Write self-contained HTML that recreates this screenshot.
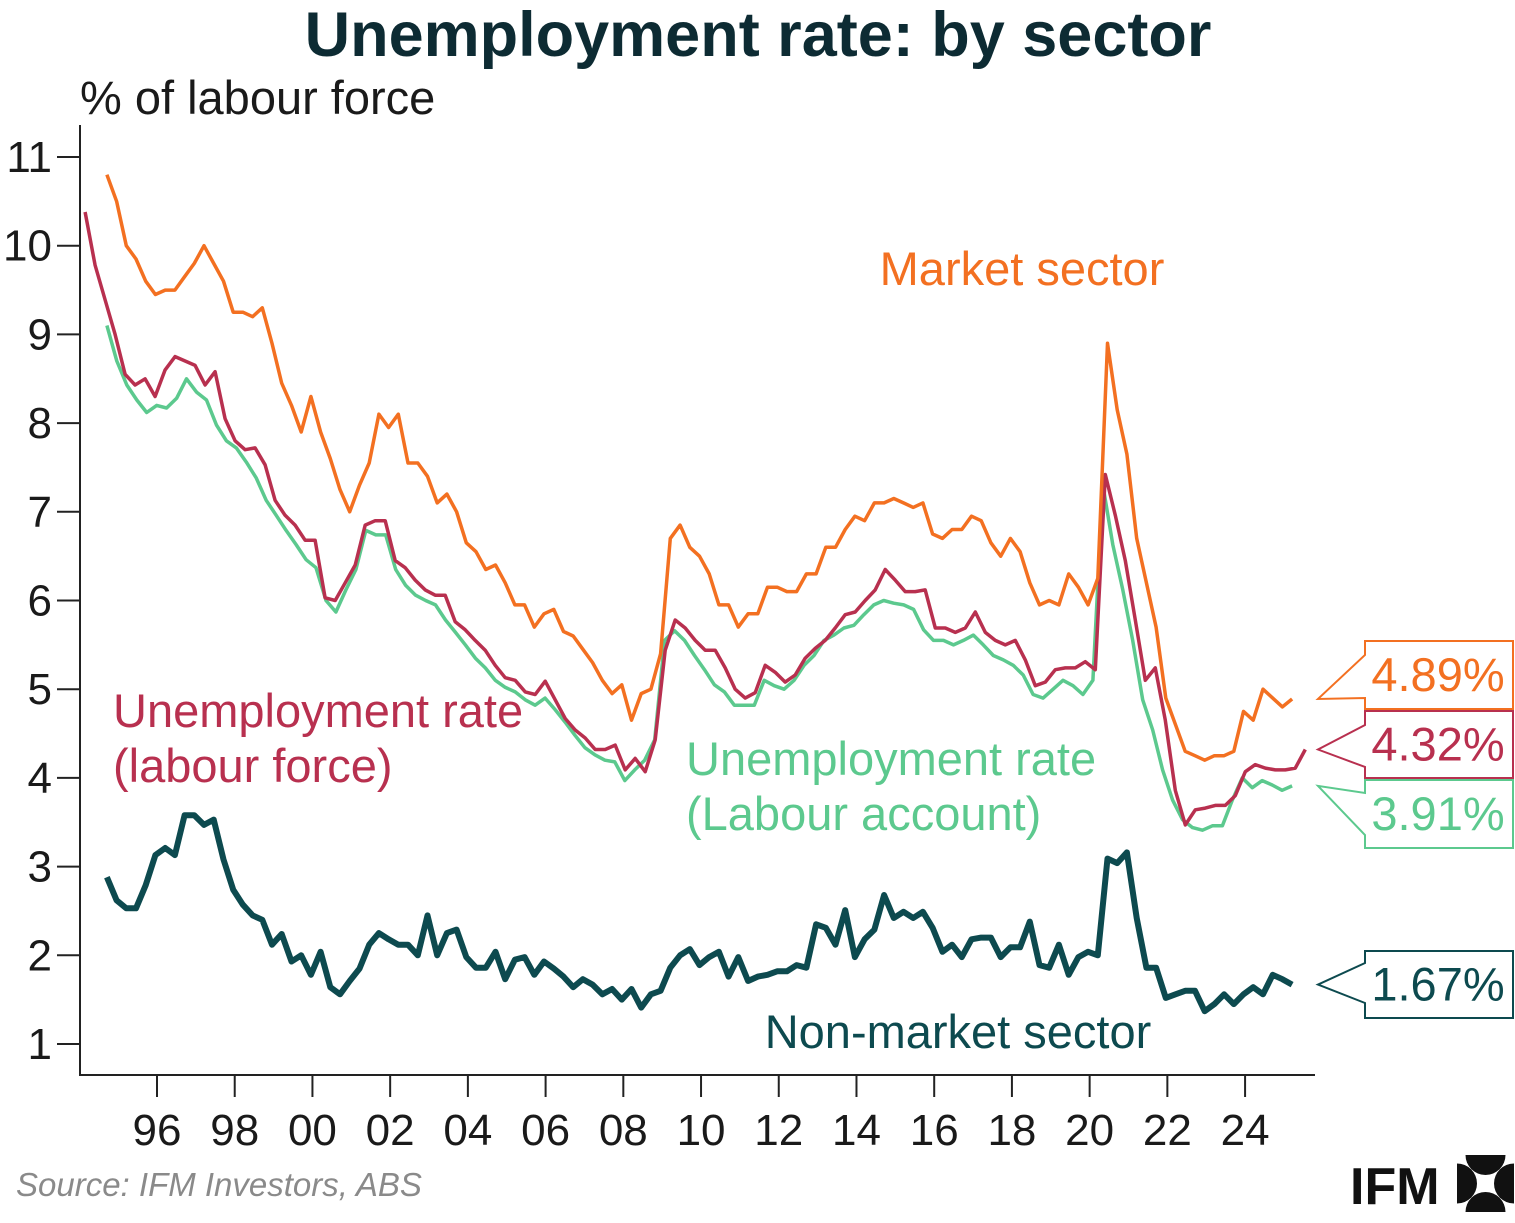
<!DOCTYPE html>
<html><head><meta charset="utf-8"><style>
body{margin:0;background:#fff;width:1515px;height:1218px;overflow:hidden;font-family:"Liberation Sans",sans-serif}
svg text{font-family:"Liberation Sans",sans-serif}
</style></head><body>
<svg id="c" width="1515" height="1218" viewBox="0 0 1515 1218">
<text x="758" y="56" text-anchor="middle" font-size="63" font-weight="bold" fill="#0d2b33">Unemployment rate: by sector</text>
<text x="80" y="114" font-size="47" fill="#1a1a1a">% of labour force</text>
<g id="axes"></g><g id="series"></g>
<text x="1022" y="285" text-anchor="middle" font-size="47" fill="#f37021">Market sector</text>
<text x="113" y="727" font-size="47" fill="#b8304f">Unemployment rate</text>
<text x="113" y="782" font-size="47" fill="#b8304f">(labour force)</text>
<text x="686" y="775" font-size="47" fill="#5cc98e">Unemployment rate</text>
<text x="686" y="830" font-size="47" fill="#5cc98e">(Labour account)</text>
<text x="958" y="1048" text-anchor="middle" font-size="47" fill="#0d4a4f">Non-market sector</text>
<g id="callouts"></g>
<text x="16" y="1196" font-size="33" font-style="italic" fill="#8a8a8a">Source: IFM Investors, ABS</text>
<text x="1350" y="1204" font-size="52" font-weight="bold" fill="#111">IFM</text>
<g transform="translate(1457,1155)">
<clipPath id="lc"><rect width="57" height="57"/></clipPath>
<g clip-path="url(#lc)" fill="#111"><circle cx="28.5" cy="0" r="20"/><circle cx="28.5" cy="57" r="20"/><circle cx="0" cy="28.5" r="20"/><circle cx="57" cy="28.5" r="20"/></g>
</g>
</svg>
<script>
const yTicks=[1,2,3,4,5,6,7,8,9,10,11];
const xTickYears=[1996,1998,2000,2002,2004,2006,2008,2010,2012,2014,2016,2018,2020,2022,2024];
const xTickLabels=["96","98","00","02","04","06","08","10","12","14","16","18","20","22","24"];
const marketRange=[1994.71,2025.21];
const marketVals=[10.8,10.5,10.0,9.85,9.6,9.45,9.5,9.5,9.65,9.8,10.0,9.8,9.6,9.25,9.25,9.2,9.3,8.9,8.45,8.2,7.9,8.3,7.9,7.6,7.25,7.0,7.3,7.55,8.1,7.95,8.1,7.55,7.55,7.4,7.1,7.2,7.0,6.65,6.55,6.35,6.4,6.2,5.95,5.95,5.7,5.85,5.9,5.65,5.6,5.45,5.3,5.1,4.95,5.05,4.65,4.95,5.0,5.4,6.7,6.85,6.6,6.5,6.3,5.95,5.95,5.7,5.85,5.85,6.15,6.15,6.1,6.1,6.3,6.3,6.6,6.6,6.8,6.95,6.9,7.1,7.1,7.15,7.1,7.05,7.1,6.75,6.7,6.8,6.8,6.95,6.9,6.65,6.5,6.7,6.55,6.2,5.95,6.0,5.95,6.3,6.15,5.95,6.25,8.9,8.15,7.65,6.7,6.2,5.7,4.9,4.6,4.3,4.25,4.2,4.25,4.25,4.3,4.75,4.65,5.0,4.9,4.8,4.89];
const lfRange=[1994.15,2025.55];
const lfVals=[10.38,9.78,9.39,9.0,8.55,8.43,8.5,8.3,8.6,8.75,8.7,8.65,8.43,8.58,8.05,7.8,7.7,7.72,7.53,7.13,6.96,6.85,6.68,6.68,6.03,6.0,6.2,6.4,6.85,6.9,6.9,6.45,6.37,6.23,6.12,6.06,6.06,5.76,5.67,5.55,5.44,5.27,5.13,5.1,4.97,4.94,5.09,4.88,4.67,4.54,4.45,4.32,4.32,4.37,4.09,4.22,4.07,4.43,5.44,5.78,5.69,5.55,5.44,5.44,5.24,5.0,4.9,4.96,5.27,5.19,5.08,5.16,5.35,5.46,5.55,5.69,5.84,5.87,6.0,6.12,6.35,6.23,6.1,6.1,6.12,5.69,5.69,5.64,5.69,5.87,5.64,5.55,5.5,5.55,5.33,5.04,5.08,5.22,5.24,5.24,5.31,5.22,7.42,6.96,6.45,5.78,5.1,5.24,4.65,3.86,3.47,3.64,3.66,3.69,3.69,3.8,4.07,4.15,4.11,4.09,4.09,4.11,4.32];
const laRange=[1994.71,2025.21];
const laVals=[9.1,8.7,8.43,8.26,8.12,8.2,8.17,8.28,8.5,8.35,8.26,7.98,7.8,7.72,7.56,7.38,7.13,6.96,6.79,6.63,6.46,6.37,6.0,5.87,6.12,6.35,6.79,6.74,6.74,6.35,6.17,6.06,6.0,5.95,5.78,5.64,5.5,5.35,5.24,5.1,5.02,4.97,4.88,4.82,4.9,4.77,4.63,4.48,4.34,4.26,4.2,4.18,3.97,4.09,4.2,4.43,5.55,5.66,5.55,5.38,5.22,5.05,4.97,4.82,4.82,4.82,5.1,5.04,5.0,5.1,5.27,5.38,5.55,5.61,5.69,5.72,5.84,5.95,6.0,5.97,5.95,5.9,5.67,5.55,5.55,5.5,5.55,5.61,5.5,5.38,5.33,5.27,5.16,4.94,4.9,5.0,5.1,5.04,4.94,5.1,7.3,6.63,6.12,5.55,4.88,4.54,4.09,3.75,3.53,3.44,3.41,3.46,3.46,3.75,4.0,3.89,3.97,3.92,3.86,3.91];
const nmRange=[1994.71,2025.21];
const nmVals=[2.88,2.62,2.53,2.53,2.79,3.13,3.21,3.13,3.58,3.58,3.47,3.53,3.08,2.74,2.57,2.45,2.4,2.12,2.24,1.93,2.0,1.78,2.04,1.64,1.56,1.71,1.85,2.12,2.25,2.18,2.12,2.12,2.0,2.45,2.0,2.25,2.29,1.98,1.86,1.86,2.04,1.73,1.95,1.98,1.78,1.93,1.85,1.76,1.64,1.73,1.67,1.56,1.62,1.5,1.62,1.41,1.56,1.6,1.86,2.0,2.07,1.89,1.98,2.04,1.76,1.98,1.71,1.76,1.78,1.82,1.82,1.89,1.86,2.35,2.31,2.12,2.51,1.98,2.18,2.29,2.68,2.42,2.49,2.42,2.49,2.31,2.04,2.12,1.98,2.18,2.2,2.2,1.98,2.09,2.09,2.38,1.89,1.86,2.12,1.78,1.98,2.04,2.0,3.09,3.04,3.16,2.42,1.86,1.86,1.52,1.56,1.6,1.6,1.37,1.45,1.56,1.45,1.56,1.64,1.56,1.78,1.73,1.67];
const callouts=[
 {label:"4.89%",value:4.89,color:"#f37021",top:641,bottom:709,up:655,lo:698},
 {label:"4.32%",value:4.32,color:"#b8304f",top:711,bottom:778,up:725,lo:767},
 {label:"3.91%",value:3.91,color:"#5cc98e",top:780,bottom:848,up:793,lo:835},
 {label:"1.67%",value:1.67,color:"#0d4a4f",top:951,bottom:1018,up:963,lo:1003}];
const NS="http://www.w3.org/2000/svg";
const X=y=>157+(y-1996)*38.86, Y=v=>157+(11-v)*88.7;
function mk(tag,attrs,parent){const e=document.createElementNS(NS,tag);for(const k in attrs)e.setAttribute(k,attrs[k]);parent.appendChild(e);return e;}
const ax=document.getElementById('axes');
const yl=mk('line',{x1:80,y1:125,x2:80,y2:1075,stroke:'#222','stroke-width':2},ax);


const xl=mk('line',{x1:79,y1:1075,x2:1315,y2:1075,stroke:'#222','stroke-width':2},ax);


yTicks.forEach(v=>{
 const t=mk('line',{x1:57,x2:80,y1:Y(v),y2:Y(v),stroke:'#222','stroke-width':2},ax);
 
 
 const l=mk('text',{x:52,y:Y(v)+15,'text-anchor':'end','font-size':44,fill:'#1a1a1a'},ax);l.textContent=v;
 
 
});
xTickYears.forEach((yr,i)=>{
 const t=mk('line',{x1:X(yr),x2:X(yr),y1:1075,y2:1097,stroke:'#222','stroke-width':2},ax);
 
 
 const l=mk('text',{x:X(yr),y:1145,'text-anchor':'middle','font-size':44,fill:'#1a1a1a'},ax);l.textContent=xTickLabels[i];
 
 
});
const sg=document.getElementById('series');
function line(vals,range,color,w,name){
 const step=(range[1]-range[0])/(vals.length-1);
 const d=vals.map((v,i)=>(i?'L':'M')+X(range[0]+i*step).toFixed(1)+','+Y(v).toFixed(1)).join('');
 const p=mk('path',{d:d,fill:'none',stroke:color,'stroke-width':w,'stroke-linejoin':'round'},sg);
 
 
}
line(laVals,laRange,'#5cc98e',3.5,'labour-account-line');
line(lfVals,lfRange,'#b8304f',3.5,'labour-force-line');
line(marketVals,marketRange,'#f37021',3.5,'market-sector-line');
line(nmVals,nmRange,'#0d4a4f',6,'non-market-line');
const cg=document.getElementById('callouts');
callouts.forEach(c=>{
 const ty=Y(c.value);
 const p=mk('polygon',{points:`1365,${c.top} 1513,${c.top} 1513,${c.bottom} 1365,${c.bottom} 1365,${c.lo} 1318,${ty} 1365,${c.up}`,fill:'#fff',stroke:c.color,'stroke-width':2},cg);
 
 
 const t=mk('text',{x:1438,y:(c.top+c.bottom)/2+16,'text-anchor':'middle','font-size':47,fill:c.color},cg);t.textContent=c.label;
 
 
});
</script>
</body></html>
